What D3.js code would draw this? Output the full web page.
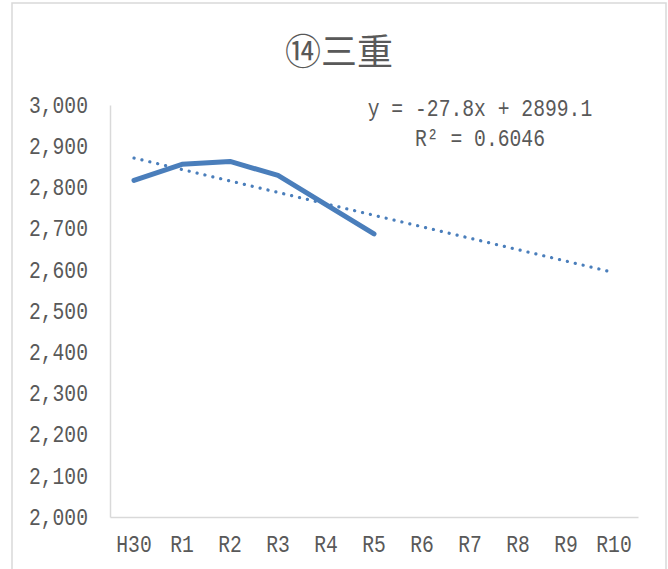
<!DOCTYPE html>
<html lang="ja">
<head>
    <meta charset="UTF-8">
    <title>⑭三重</title>
    <script src="https://cdn.jsdelivr.net/npm/d3@7"></script>
    <style>
        body { margin: 0; background: #fff; }
        text { font-family: "Liberation Mono", "DejaVu Sans Mono", monospace; fill: #595959; }
        .axis text, .eq {
            font-size: 19.7px;
            font-family: "Liberation Mono", monospace;
            transform-box: fill-box;
            transform-origin: center;
            transform: scaleY(1.2);
        }
        .axis path, .axis line { stroke: #d9d9d9; }
        .title { font-family: "Noto Sans CJK JP", sans-serif; }
    </style>
</head>
<body>
    <svg width="668" height="569"></svg>

    <script>
        // data
        const categories = ["H30", "R1", "R2", "R3", "R4", "R5", "R6", "R7", "R8", "R9", "R10"];
        const values = [2817, 2856, 2863, 2829, 2758, 2687];
        const yTicks = [2000, 2100, 2200, 2300, 2400, 2500, 2600, 2700, 2800, 2900, 3000];
        const trendSlope = -27.8;
        const trendIntercept = 2899.1;
        const trendR2 = 0.6046;
        const title = "⑭三重";

        const svg = d3.select("svg");
        const margin = { top: 105, right: 30, bottom: 52, left: 110 };
        const width = 638 - margin.left;
        const height = 517 - margin.top;

        // chart frame
        svg.append("rect")
            .attr("x", 12).attr("y", 3)
            .attr("width", 654).attr("height", 600)
            .attr("fill", "none")
            .attr("stroke", "#d9d9d9")
            .attr("stroke-width", 1.5);

        svg.append("text")
            .attr("class", "title")
            .attr("x", 339).attr("y", 65)
            .attr("text-anchor", "middle")
            .style("font-size", "36px")
            .text(title);

        const g = svg.append("g")
            .attr("transform", `translate(${margin.left},${margin.top})`);

        const x = d3.scaleBand().domain(categories).range([0, width]);
        const y = d3.scaleLinear().domain([2000, 3000]).range([height, 0]);

        // axes
        g.append("g")
            .attr("class", "axis")
            .attr("transform", `translate(0,${height})`)
            .call(d3.axisBottom(x).tickSize(0).tickPadding(20))
            .call(a => a.select(".domain").attr("stroke-width", 1.5));

        g.append("g")
            .attr("class", "axis")
            .call(d3.axisLeft(y).tickValues(yTicks).tickSize(0).tickPadding(22)
                .tickFormat(d3.format(",")))
            .call(a => a.select(".domain").attr("stroke-width", 1.5));

        const cx = (d, i) => x(categories[i]) + x.bandwidth() / 2;

        // trend line (x = 1 for H30)
        const trend = categories.map((c, i) => trendIntercept + trendSlope * (i + 1));
        g.append("path")
            .datum(trend)
            .attr("fill", "none")
            .attr("stroke", "#4a7ebb")
            .attr("stroke-width", 3.2)
            .attr("stroke-linecap", "round")
            .attr("stroke-dasharray", "0.1 8")
            .attr("d", d3.line().x(cx).y(d => y(d)));

        // series
        g.append("path")
            .datum(values)
            .attr("fill", "none")
            .attr("stroke", "#4a7ebb")
            .attr("stroke-width", 5)
            .attr("stroke-linecap", "round")
            .attr("stroke-linejoin", "round")
            .attr("d", d3.line().x(cx).y(d => y(d)));

        // equation label
        svg.append("text")
            .attr("class", "eq")
            .attr("x", 480).attr("y", 115)
            .attr("text-anchor", "middle")
            .attr("xml:space", "preserve")
            .text(`y = ${trendSlope}x + ${trendIntercept}`);
        svg.append("text")
            .attr("class", "eq")
            .attr("x", 480).attr("y", 145)
            .attr("text-anchor", "middle")
            .attr("xml:space", "preserve")
            .text(`R² = ${trendR2}`);
    </script>
</body>
</html>
